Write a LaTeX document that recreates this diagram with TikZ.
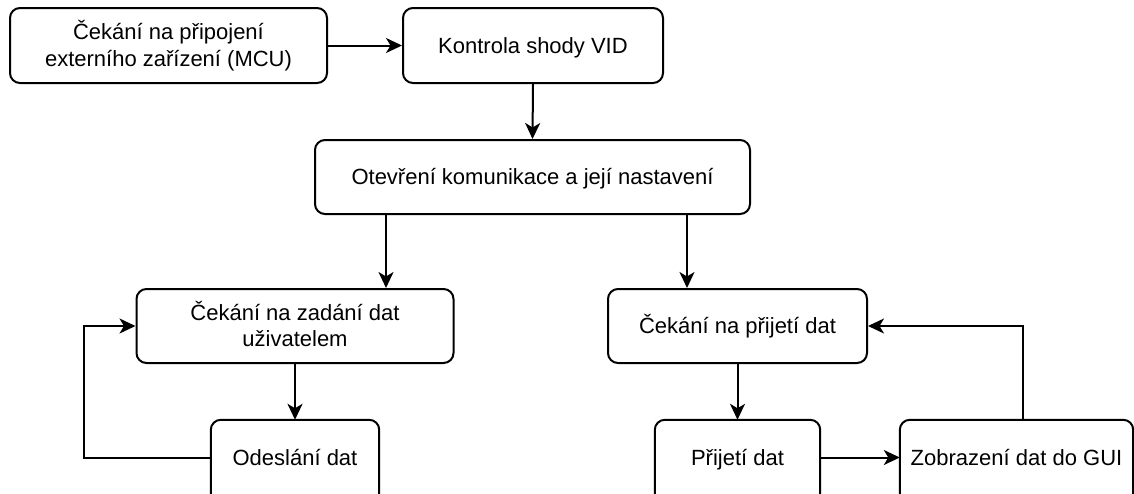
\documentclass[tikz,border=0pt]{standalone}
\usepackage{fontspec}
\setmainfont{Liberation Sans}
\usetikzlibrary{arrows.meta}
\newcommand\ls{\rule[-5pt]{0pt}{25pt}}
\begin{document}
\begin{tikzpicture}[x=1pt,y=-1pt,
  box/.style={draw, line width=2pt, rounded corners=10pt, inner sep=0pt, align=center,
    font=\fontsize{22}{26.5}\selectfont, minimum height=75pt},
  openbox/.style={inner sep=0pt, align=center,
    font=\fontsize{22}{26.5}\selectfont, minimum height=75pt},
  boxline/.style={draw, line width=2pt, rounded corners=10pt},
  arr/.style={line width=2pt, -{Stealth[length=16pt,width=15pt,inset=4.5pt]}}]
\useasboundingbox (0,0) rectangle (1134,493);
\node[box, minimum width=317pt] (b1) at (168.5,45.5) {\ls Čekání na připojení\\\ls externího zařízení (MCU)};
\node[box, minimum width=260pt] (b2) at (533,45.5) {\ls Kontrola shody VID};
\node[box, minimum width=435pt, minimum height=74pt] (b3) at (532.5,177) {\ls Otevření komunikace a její nastavení};
\node[box, minimum width=317pt, minimum height=74pt] (b4) at (295,326) {\ls Čekání na zadání dat\\\ls uživatelem};
\node[openbox, minimum width=168pt] (b5) at (295,457.5) {\ls Odeslání dat};
\node[box, minimum width=259pt, minimum height=74pt] (b6) at (737.5,326) {\ls Čekání na přijetí dat};
\node[openbox, minimum width=165pt] (b7) at (737.5,457.5) {\ls Přijetí dat};
\node[openbox, minimum width=233pt] (b8) at (1016.5,457.5) {\ls Zobrazení dat do GUI};
\draw[boxline] (b5.north west) rectangle ([yshift=-25pt]b5.south east);
\draw[boxline] (b7.north west) rectangle ([yshift=-25pt]b7.south east);
\draw[boxline] (b8.north west) rectangle ([yshift=-25pt]b8.south east);
\coordinate (c1) at (386,0);
\coordinate (c2) at (687,0);
\coordinate (c3) at (84,0);
\coordinate (c4) at (1023,0);
\draw[arr] (b1.east) -- (b2.west);
\draw[arr] (b2.south) -- (b3.north);
\draw[arr] (b3.south -| c1) -- (b4.north -| c1);
\draw[arr] (b3.south -| c2) -- (b6.north -| c2);
\draw[arr] (b4.south) -- (b5.north);
\draw[arr] (b6.south) -- (b7.north);
\draw[arr] (b7.east) -- (b8.west);
\draw[arr] (b5.west) -- (b5.west -| c3) |- (b4.west);
\draw[arr] (b8.north -| c4) |- (b6.east);
\end{tikzpicture}
\end{document}
